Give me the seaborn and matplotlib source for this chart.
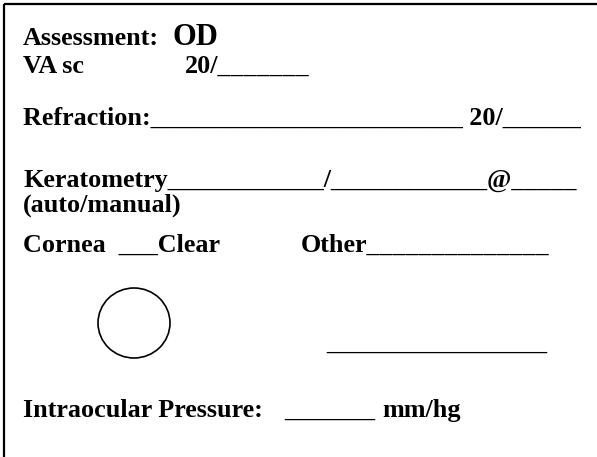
import matplotlib
matplotlib.use("Agg")
import matplotlib.pyplot as plt
from matplotlib.patches import Ellipse
import seaborn as sns

# 表单文字（每一段单独放置）
labels = [
    "Assessment:", "OD",
    "VA sc", "20/_______",
    "Refraction:________________________ 20/______",
    "Keratometry____________/____________@_____",
    "(auto/manual)",
    "Cornea  ___Clear", "Other______________",
    "_________________",
    "Intraocular Pressure:", "_______", "mm/hg",
]
# 位置（像素坐标，y向下）
label_x = [23, 172, 23, 185, 23, 23, 23, 23, 301, 326, 23, 284, 382]
label_y = [45, 45, 73, 73, 125, 187, 212, 252, 252, 350, 417, 417, 417]
label_size = [18.8, 22] + [18.8] * 11

# 角膜示意圆
circle_center = (134, 323)
circle_w, circle_h = 72, 70

W, H = 597, 457

sns.set_style("white")
plt.rcParams['font.family'] = ['Liberation Serif', 'DejaVu Serif']

fig = plt.figure(figsize=(W / 100, H / 100), dpi=100)
ax = fig.add_axes([0, 0, 1, 1])
ax.set_xlim(0, W)
ax.set_ylim(H, 0)
ax.axis('off')

for txt, x, y, s in zip(labels, label_x, label_y, label_size):
    ax.text(x, y, txt, fontsize=s, fontweight='bold', color='black',
            ha='left', va='baseline')

ax.add_patch(Ellipse(circle_center, circle_w, circle_h, fill=False,
                     edgecolor='black', linewidth=1.2))

# 边框（上、左）
ax.plot([3.5, W], [3.5, 3.5], color='black', linewidth=1.6, solid_capstyle='butt')
ax.plot([3.5, 3.5], [3.5, H], color='black', linewidth=1.6, solid_capstyle='butt')

fig.savefig('out.png', dpi=100, facecolor='white')
